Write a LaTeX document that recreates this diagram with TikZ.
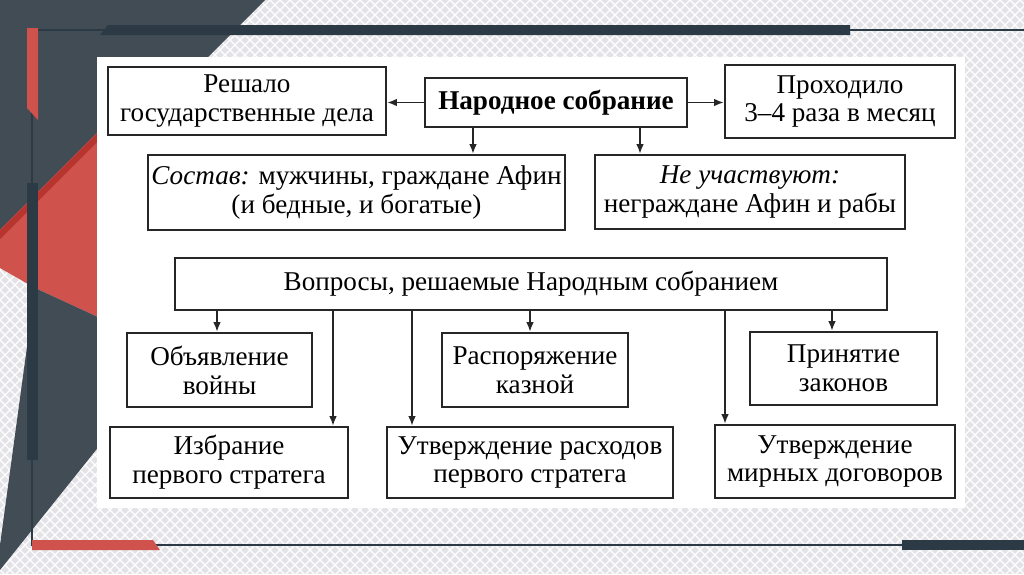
\documentclass[tikz,border=0pt]{standalone}
\usepackage{fontspec}
\setmainfont{Liberation Serif}
\usetikzlibrary{arrows.meta}
\definecolor{slate}{HTML}{414C54}
\definecolor{slatedk}{HTML}{2C3A46}
\definecolor{brick}{HTML}{CF534C}
\definecolor{brickdk}{HTML}{B8342F}
\definecolor{hatchbg}{HTML}{E2E2E7}

\begin{document}
\begin{tikzpicture}[
  x=0.025cm, y=-0.025cm,
  >={Latex[length=7pt,width=5.5pt]},
  box/.style={draw=black!85, line width=1.6pt, fill=white, align=center, inner sep=0pt,
    font=\fontsize{19.3}{20.5}\selectfont},
  bsize/.style 2 args={minimum width=#1*0.025cm, minimum height=#2*0.025cm},
  link/.style={->, line width=1.3pt, draw=black!85},
  hatch/.style={white, line width=0.9pt},
  bar/.style={fill=slatedk},
  rule/.style={draw=slatedk, line width=1.2pt},
]
\useasboundingbox (0,0) rectangle (1024,574);

% slide backdrop
\fill[hatchbg] (0,0) rectangle (1024,574);
\begin{scope}
  \clip (0,0) rectangle (1024,574);
  \foreach \i in {-580,-570,...,1610} {
    \draw[hatch] (\i,0) -- ++(580,580);
    \draw[hatch] (\i,0) -- ++(-580,580);
  }
\end{scope}
\fill[slate] (0,0) -- (265,0) -- (150,115) -- (100,130) -- (0,230) -- cycle;
\fill[brick] (0,230) -- (100,130) -- (100,318) -- (35,288) -- (0,268) -- cycle;
\fill[brickdk] (0,230) -- (100,130) -- (100,139) -- (0,239) -- cycle;
\fill[slate] (35,288) -- (100,318) -- (100,445) -- (0,570) -- (0,545) -- cycle;

% frame rules
\draw[rule] (32,30) -- (1024,30);
\fill[bar] (108,25) -- (850,25) -- (850,35) -- (100,35) -- cycle;
\draw[rule] (32,28) -- (32,545) -- (1024,545);
\fill[brick] (27,28) -- (38,28) -- (38,120) -- (27,108) -- cycle;
\fill[bar] (27,183) rectangle (38,460);
\fill[brick] (32,540) -- (153,540) -- (160,550) -- (32,550) -- cycle;
\fill[bar] (902,540) rectangle (1024,550);

% white sheet
\fill[white] (97,57) rectangle (965,508);

% top block
\node[box, bsize={278}{68}] (resh) at (247,101) {Решало\\государственные дела};
\node[box, bsize={262}{49}] (nar) at (556,102.5) {\textbf{Народное собрание}};
\node[box, bsize={230}{73}] (prox) at (840,101.5) {Проходило\\3–4 раза в месяц};
\node[box, bsize={417}{75}] (sost) at (356.5,192.5) {\textit{Состав:} мужчины, граждане Афин\\(и бедные, и богатые)};
\node[box, bsize={310}{74}] (neuch) at (750,192) {\textit{Не участвуют:}\\неграждане Афин и рабы};

\draw[link] (nar.west) -- (nar.west -| resh.east);
\draw[link] (nar.east) -- (nar.east -| prox.west);
\foreach \x/\t in {473/sost, 640/neuch} {
  \coordinate (k) at (\x,0);
  \draw[link] (nar.south -| k) -- (\t.north -| k);
}

% questions
\node[box, bsize={712}{52}] (vopr) at (531,284) {Вопросы, решаемые Народным собранием};
\node[box, bsize={185}{74}] (vojna) at (219.5,370) {Объявление\\войны};
\node[box, bsize={186}{74}] (kazna) at (535,370) {Распоряжение\\казной};
\node[box, bsize={187}{73}] (zakon) at (843.5,368.5) {Принятие\\законов};
\node[box, bsize={238}{71}] (strat) at (229,462.5) {Избрание\\первого стратега};
\node[box, bsize={286}{71}] (rasx) at (530,462.5) {Утверждение расходов\\первого стратега};
\node[box, bsize={240}{73}] (mir) at (835,461.5) {Утверждение\\мирных договоров};

\foreach \x/\t in {217/vojna, 333/strat, 412/rasx, 530/kazna, 725/mir, 832/zakon} {
  \coordinate (k) at (\x,0);
  \draw[link] (vopr.south -| k) -- (\t.north -| k);
}
\end{tikzpicture}
\end{document}
